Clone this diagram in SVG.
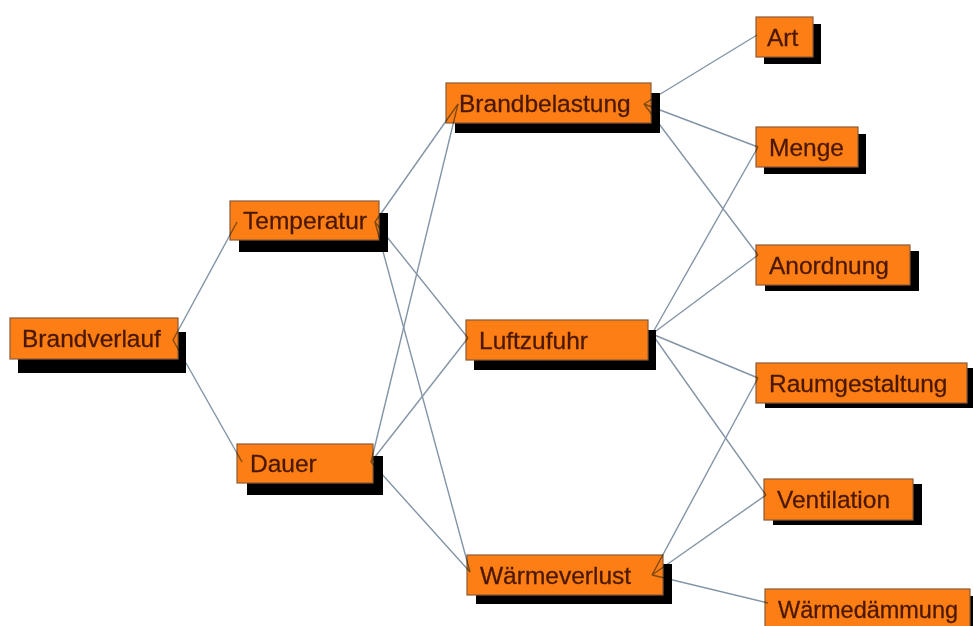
<svg xmlns="http://www.w3.org/2000/svg" width="973" height="626" viewBox="0 0 973 626">
<style>
.sh{fill:#000}
.bx{fill:#fd7e14;stroke:#8a5a36;stroke-width:1.2}
.tx{font-family:"Liberation Sans",Arial,sans-serif;font-size:24.5px;fill:#4a1800;stroke:#4a1800;stroke-width:0.3}
#connectors{mix-blend-mode:multiply}
#connectors line{stroke:#8394a6;stroke-width:1.4}
</style>
<rect width="973" height="626" fill="#fff"/>
<g id="Brandverlauf"><rect class="sh" x="18" y="332" width="168" height="41"/><rect class="bx" x="10" y="318" width="168" height="41"/><text class="tx" x="22" y="347">Brandverlauf</text></g>
<g id="Temperatur"><rect class="sh" x="239" y="213" width="149" height="39"/><rect class="bx" x="230" y="201" width="149" height="39"/><text class="tx" x="243" y="229">Temperatur</text></g>
<g id="Dauer"><rect class="sh" x="247" y="456" width="136" height="39"/><rect class="bx" x="237" y="444" width="136" height="39"/><text class="tx" x="250" y="472">Dauer</text></g>
<g id="Brandbelastung"><rect class="sh" x="455" y="93" width="205" height="40"/><rect class="bx" x="446" y="83" width="205" height="40"/><text class="tx" x="459" y="112">Brandbelastung</text></g>
<g id="Luftzufuhr"><rect class="sh" x="474" y="330" width="182" height="40"/><rect class="bx" x="466" y="320" width="182" height="40"/><text class="tx" x="479" y="349">Luftzufuhr</text></g>
<g id="Waermeverlust"><rect class="sh" x="476" y="564" width="196" height="40"/><rect class="bx" x="467" y="555" width="196" height="40"/><text class="tx" x="480" y="584">Wärmeverlust</text></g>
<g id="Art"><rect class="sh" x="764" y="24" width="57" height="40"/><rect class="bx" x="756" y="17" width="57" height="40"/><text class="tx" x="767" y="46">Art</text></g>
<g id="Menge"><rect class="sh" x="764" y="134" width="102" height="40"/><rect class="bx" x="756" y="127" width="102" height="40"/><text class="tx" x="769" y="156">Menge</text></g>
<g id="Anordnung"><rect class="sh" x="765" y="251" width="154" height="40"/><rect class="bx" x="756" y="245" width="154" height="40"/><text class="tx" x="769" y="274">Anordnung</text></g>
<g id="Raumgestaltung"><rect class="sh" x="765" y="368" width="211" height="40"/><rect class="bx" x="756" y="363" width="211" height="40"/><text class="tx" x="769" y="392">Raumgestaltung</text></g>
<g id="Ventilation"><rect class="sh" x="773" y="484" width="149" height="41"/><rect class="bx" x="764" y="479" width="149" height="41"/><text class="tx" x="777" y="508">Ventilation</text></g>
<g id="Waermedaemmung"><rect class="sh" x="773" y="596" width="205" height="40"/><rect class="bx" x="765" y="589" width="205" height="40"/><text class="tx" x="778" y="618" textLength="180" lengthAdjust="spacingAndGlyphs">Wärmedämmung</text></g>
<g id="connectors">
<line x1="173" y1="340" x2="237" y2="222"/>
<line x1="173" y1="340" x2="242" y2="462"/>
<line x1="375" y1="222" x2="458" y2="104"/>
<line x1="375" y1="222" x2="468" y2="338"/>
<line x1="375" y1="222" x2="470" y2="572"/>
<line x1="371" y1="462" x2="458" y2="104"/>
<line x1="371" y1="462" x2="468" y2="338"/>
<line x1="371" y1="462" x2="470" y2="572"/>
<line x1="644" y1="104" x2="757" y2="35"/>
<line x1="644" y1="104" x2="758" y2="147"/>
<line x1="644" y1="104" x2="758" y2="255"/>
<line x1="652" y1="334" x2="758" y2="147"/>
<line x1="652" y1="334" x2="758" y2="255"/>
<line x1="652" y1="334" x2="758" y2="378"/>
<line x1="652" y1="334" x2="766" y2="495"/>
<line x1="652" y1="575" x2="758" y2="378"/>
<line x1="652" y1="575" x2="766" y2="495"/>
<line x1="652" y1="575" x2="768" y2="603"/>
</g>
</svg>
